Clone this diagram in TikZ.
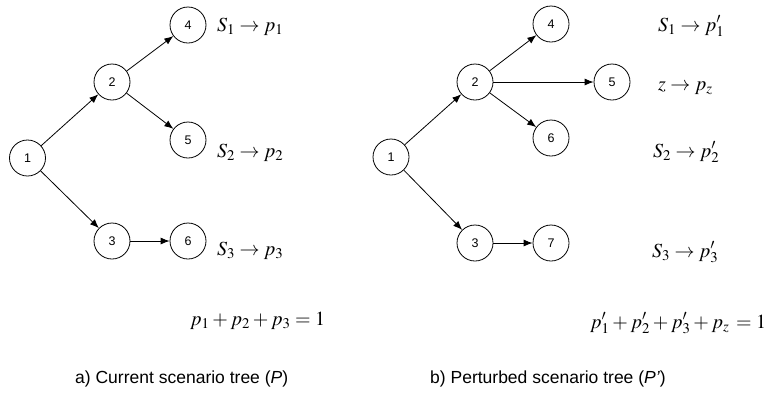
\documentclass[tikz,border=0pt]{standalone}
\usepackage{mathptmx}
\usepackage{fontspec}
\setsansfont{Liberation Sans}
\usetikzlibrary{arrows.meta}
\begin{document}
\begin{tikzpicture}[x=1pt,y=-1pt,
  st/.style={circle,draw,line width=0.8pt,minimum size=36pt,inner sep=0pt,font=\fontsize{12.5}{14}\sffamily},
  ed/.style={line width=0.8pt,-{Latex[length=9pt,width=7pt]}},
  lab/.style={anchor=base west,inner sep=0pt,font=\fontsize{20}{24}\selectfont},
  captxt/.style={anchor=base west,inner sep=0pt,font=\fontsize{17.5}{20}\sffamily}]
\useasboundingbox (0,0) rectangle (766,392);
% left tree
\node[st] (a1) at (27.5,158) {1};
\node[st] (a2) at (112,82) {2};
\node[st] (a4) at (188,25) {4};
\node[st] (a5) at (188,140) {5};
\node[st] (a3) at (112,241) {3};
\node[st] (a6) at (188,241) {6};
\draw[ed] (a1) -- (a2);
\draw[ed] (a2) -- (a4);
\draw[ed] (a2) -- (a5);
\draw[ed] (a1) -- (a3);
\draw[ed] (a3) -- (a6);
\node[lab] (la1) at (217,31) {$S_1\rightarrow p_1$};
\node[lab] (la2) at (217,157) {$S_2\rightarrow p_2$};
\node[lab] (la3) at (217,255) {$S_3\rightarrow p_3$};
\node[lab] (lasum) at (190,325) {$p_1+p_2+p_3=1$};
\node[captxt] (capa) at (75,383) {a) Current scenario tree (\textit{P})};
% right tree
\node[st] (b1) at (391,157) {1};
\node[st] (b2) at (475,82) {2};
\node[st] (b4) at (551,24) {4};
\node[st] (b5) at (612,82) {5};
\node[st] (b6) at (551,138) {6};
\node[st] (b3) at (475,243) {3};
\node[st] (b7) at (551,243) {7};
\draw[ed] (b1) -- (b2);
\draw[ed] (b2) -- (b4);
\draw[ed] (b2) -- (b5);
\draw[ed] (b2) -- (b6);
\draw[ed] (b1) -- (b3);
\draw[ed] (b3) -- (b7);
\node[lab] (lb1) at (658,31) {$S_1\rightarrow p_1'$};
\node[lab] (lbz) at (658,90) {$z\rightarrow p_z$};
\node[lab] (lb2) at (653,157) {$S_2\rightarrow p_2'$};
\node[lab] (lb3) at (652,257) {$S_3\rightarrow p_3'$};
\node[lab] (lbsum) at (590,328) {$p_1'+p_2'+p_3'+p_z\,=1$};
\node[captxt] (capb) at (430,383) {b) Perturbed scenario tree (\textit{P'})};
\end{tikzpicture}
\end{document}
